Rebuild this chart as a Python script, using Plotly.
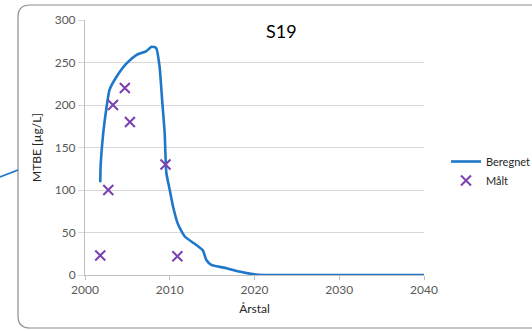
import plotly.graph_objects as go

# Modelled MTBE concentration (Beregnet)
beregnet_year = [2001.8, 2001.85, 2002.15, 2002.55, 2002.9, 2003.7, 2004.9, 2006.1,
                 2007.25, 2007.85, 2008.4, 2008.8, 2009.1, 2009.4, 2009.6, 2010.0,
                 2010.4, 2011.0, 2011.8, 2012.9, 2013.9, 2014.3, 2014.9, 2016.7,
                 2018.2, 2019.8, 2021.0, 2030.0, 2040.0]
beregnet_val = [109, 130, 167, 198, 218, 233, 249, 259,
                263.5, 268.5, 267, 245, 206, 167, 120, 100,
                80, 59, 45, 37, 29, 18, 12, 8,
                4, 1, 0, 0, 0]

# Measured MTBE concentration (Målt)
maalt_year = [2001.8, 2002.75, 2003.3, 2004.7, 2005.3, 2009.5, 2010.9]
maalt_val = [23, 100, 200, 220, 180, 130, 22]

W, H = 532, 331
L, R, T, B = 85, 424, 20, 275  # plot area in pixels

def px(x):
    return (x - L) / (R - L)

def py(y):
    return (B - y) / (B - T)

font = "Lato"
tick_col = "#595959"
text_col = "#262626"

fig = go.Figure()
fig.add_trace(go.Scatter(
    x=beregnet_year, y=beregnet_val, name="Beregnet", mode="lines",
    line=dict(color="#1F77C8", width=2.6, shape="spline", smoothing=0.5),
))
fig.add_trace(go.Scatter(
    x=maalt_year, y=maalt_val, name="Målt", mode="markers",
    marker=dict(symbol="x-thin", size=10, line=dict(color="#7B3FAF", width=2)),
))

# rounded chart border
r = 12
x0, x1, y0, y1 = 18, 560, 5, 328
path = (f"M {px(x0 + r)} {py(y0)} L {px(x1)} {py(y0)} "
        f"M {px(x0 + r)} {py(y0)} Q {px(x0)} {py(y0)} {px(x0)} {py(y0 + r)} "
        f"L {px(x0)} {py(y1 - r)} Q {px(x0)} {py(y1)} {px(x0 + r)} {py(y1)} "
        f"L {px(x1)} {py(y1)}")
fig.add_shape(type="path", xref="paper", yref="paper", path=path,
              line=dict(color="#8C8C8C", width=1.2))
# connector line leaving the border
fig.add_shape(type="line", xref="paper", yref="paper",
              x0=px(0), y0=py(177), x1=px(18), y1=py(170),
              line=dict(color="#1F77C8", width=1.8))

fig.add_annotation(x=2023.2, y=287, text="S19", showarrow=False,
                   font=dict(family=font, size=18, color="#000000"))

fig.update_layout(
    width=W, height=H,
    margin=dict(l=L, r=W - R, t=T, b=H - B, autoexpand=False),
    paper_bgcolor="white", plot_bgcolor="white",
    font=dict(family=font, size=12, color=tick_col),
    showlegend=True,
    legend=dict(xref="container", yref="container",
                x=446 / W, y=1 - 147 / H, xanchor="left", yanchor="top",
                font=dict(family=font, size=11, color=text_col),
                itemwidth=30, tracegroupgap=0, bgcolor="rgba(0,0,0,0)"),
)
fig.update_xaxes(
    range=[2000, 2040], dtick=10, tick0=2000,
    showgrid=False, showline=True, linecolor="#BFBFBF", linewidth=1,
    ticks="outside", ticklen=4, tickcolor="#BFBFBF",
    tickfont=dict(family=font, size=12, color=tick_col),
    title=dict(text="Årstal", font=dict(family=font, size=12, color=text_col), standoff=8),
    zeroline=False, automargin=False,
)
fig.update_yaxes(
    range=[0, 300], dtick=50, tick0=0,
    showgrid=True, gridcolor="#D9D9D9", gridwidth=1,
    showline=True, linecolor="#BFBFBF", linewidth=1,
    ticks="outside", ticklen=6, tickcolor="#D9D9D9",
    tickfont=dict(family=font, size=12, color=tick_col),
    title=dict(text="MTBE [µg/L]", font=dict(family=font, size=12, color=text_col), standoff=10),
    zeroline=False, automargin=False,
)

fig.write_html("out.html")
